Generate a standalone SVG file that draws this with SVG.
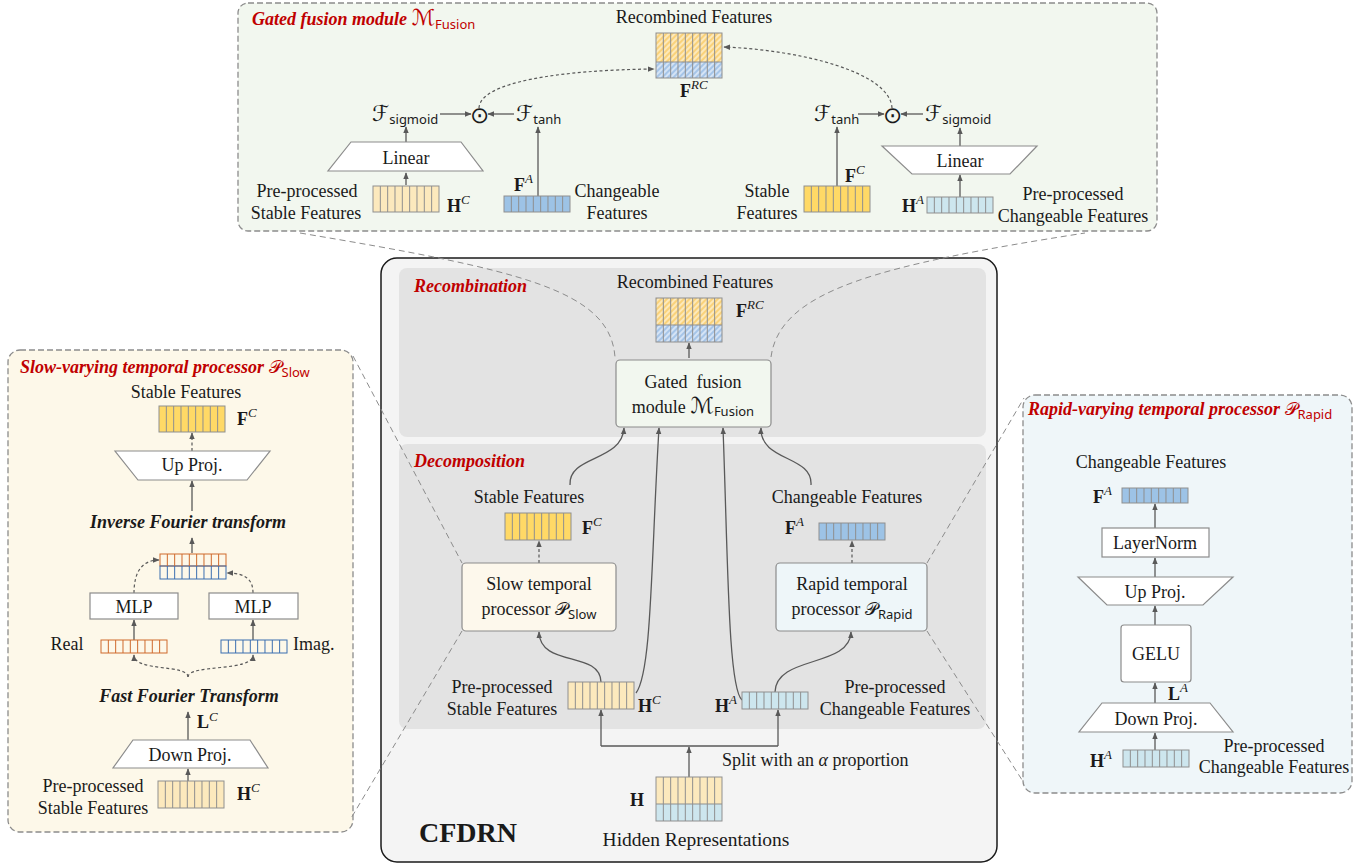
<svg xmlns="http://www.w3.org/2000/svg" width="1370" height="864" viewBox="0 0 1370 864">
<defs>
<style>
.t{font-family:"Liberation Serif","Times New Roman",serif;font-size:18px;fill:#1a1a1a}
.c{text-anchor:middle}
.ttl{font-weight:bold;font-style:italic;fill:#c00000}
.b{font-weight:bold}
.sup{font-style:italic;font-weight:normal;font-size:13px}
.sub{font-family:"Noto Sans","DejaVu Sans",sans-serif;font-size:13px;font-style:normal;font-weight:normal}
.scr{font-family:"DejaVu Sans","Noto Sans",sans-serif;font-style:normal;font-weight:normal}
.sf{font-size:22px}
.pan{stroke:#8c8c8c;stroke-width:1.3;stroke-dasharray:6 3}
.gp{fill:#e3e3e3}
.box{fill:#ffffff;stroke:#8c8c8c;stroke-width:1.2}
.cell{fill:none;stroke:#8f8f8f;stroke-width:1}
.ly{fill:#fce9bd}
.yy{fill:#ffd966}
.bb{fill:#9dc3e6}
.lb{fill:#cde6ee}
.ar{fill:none;stroke:#595959;stroke-width:1.3;marker-end:url(#ah)}
.da{fill:none;stroke:#595959;stroke-width:1.2;stroke-dasharray:3 2.5;marker-end:url(#ah)}
.zl{fill:none;stroke:#8c8c8c;stroke-width:1;stroke-dasharray:6 4}
.or{stroke:#cf6a2c}
.bl{stroke:#3b6fb0}
</style>
<marker id="ah" viewBox="0 0 10 10" refX="9" refY="5" markerWidth="7" markerHeight="7" markerUnits="userSpaceOnUse" orient="auto"><path d="M0,1 L10,5 L0,9 z" fill="#595959"/></marker>
<pattern id="hy" patternUnits="userSpaceOnUse" width="4" height="4" patternTransform="rotate(45)"><rect width="4" height="4" fill="#fad27a"/><line x1="1" y1="0" x2="1" y2="4" stroke="#fff4d6" stroke-width="1.4"/></pattern>
<pattern id="hb" patternUnits="userSpaceOnUse" width="4" height="4" patternTransform="rotate(45)"><rect width="4" height="4" fill="#a6c5e8"/><line x1="1" y1="0" x2="1" y2="4" stroke="#e8f1fb" stroke-width="1.4"/></pattern>
</defs>
<rect width="1370" height="864" fill="#ffffff"/>

<!-- Panels -->
<g id="panel-fusion">
<rect x="238" y="3" width="919" height="228" rx="10" fill="#f2f7ef" class="pan"/>
<text class="t ttl" x="252" y="25">Gated fusion module <tspan class="scr sf">ℳ</tspan><tspan class="sub" fill="#c00000" dy="4">Fusion</tspan></text>
</g>
<g id="panel-slow">
<rect x="8" y="350" width="345" height="482" rx="12" fill="#fdf8e9" class="pan"/>
<text class="t ttl" x="20" y="373">Slow-varying temporal processor <tspan class="scr">𝒫</tspan><tspan class="sub" fill="#c00000" dy="4">Slow</tspan></text>
</g>
<g id="panel-rapid">
<rect x="1023" y="395" width="329" height="398" rx="12" fill="#eff6f9" class="pan"/>
<text class="t ttl" x="1028" y="415">Rapid-varying temporal processor <tspan class="scr">𝒫</tspan><tspan class="sub" fill="#c00000" dy="4">Rapid</tspan></text>
</g>
<g id="cfdrn">
<rect x="381" y="258" width="616" height="604" rx="16" fill="#f4f4f4" stroke="#1a1a1a" stroke-width="1.5"/>
<rect x="399" y="268" width="587" height="169" rx="8" class="gp"/>
<rect x="399" y="444" width="587" height="285" rx="8" class="gp"/>
<text class="t ttl" x="414" y="292">Recombination</text>
<text class="t ttl" x="414" y="467">Decomposition</text>
<text class="t b" x="419" y="842" style="font-size:28px">CFDRN</text>
</g>

<!-- Connectors -->
<g id="connectors">
<!-- zoom guides -->
<path class="zl" d="M300 233 C520 270 610 290 615 357"/>
<path class="zl" d="M771 357 C780 290 880 265 1085 233"/>
<path class="zl" d="M353 356 L462 563"/>
<path class="zl" d="M462 631 L350 820"/>
<path class="zl" d="M927 563 L1024 398"/>
<path class="zl" d="M927 631 L1024 783"/>
<!-- fusion module -->
<path class="ar" d="M406 185 V173"/>
<path class="ar" d="M406 142 V127"/>
<path class="ar" d="M538 196 V127"/>
<path class="ar" d="M440 114 H471"/>
<path class="ar" d="M514 114 H488"/>
<path class="da" d="M479 108 C480 82 560 70 654 69"/>
<path class="ar" d="M837 186 V127"/>
<path class="ar" d="M858 114 H884"/>
<path class="ar" d="M923 114 H901"/>
<path class="ar" d="M960 197 V175"/>
<path class="ar" d="M960 146 V128"/>
<path class="da" d="M892 108 C890 72 800 50 724 47"/>
<!-- CFDRN -->
<path class="ar" d="M689 358 V343"/>
<path class="ar" d="M570 485 C568 455 622 462 624 428"/>
<path class="ar" d="M811 485 C813 455 760 462 761 428"/>
<path class="ar" d="M636 693 C652 672 651 560 659 428"/>
<path class="ar" d="M742 700 C728 688 728 560 723 428"/>
<path class="da" d="M539 563 V541"/>
<path class="da" d="M852 563 V541"/>
<path class="ar" d="M601 682 C600 650 540 668 539 632"/>
<path class="ar" d="M775 692 C776 655 850 668 851 632"/>
<path class="ar" d="M689 777 V747"/>
<path fill="none" stroke="#595959" stroke-width="1.3" d="M601 746 H778"/>
<path class="ar" d="M601 746 V710"/>
<path class="ar" d="M778 746 V710"/>
<!-- slow processor -->
<path class="da" d="M192 451 V433"/>
<path class="ar" d="M192 511 V481"/>
<path class="ar" d="M192 553 V538"/>
<path class="da" d="M134 593 C134 572 142 560 159 560"/>
<path class="da" d="M253 593 C253 580 246 573 227 573"/>
<path class="ar" d="M134 640 V620"/>
<path class="ar" d="M253 640 V620"/>
<path class="da" d="M188 677 C188 664 134 672 134 655"/>
<path class="da" d="M188 677 C188 664 253 672 253 655"/>
<path class="ar" d="M188 740 V712"/>
<path class="ar" d="M188 781 V769"/>
<!-- rapid processor -->
<path class="ar" d="M1155 528 V504"/>
<path class="ar" d="M1155 577 V558"/>
<path class="ar" d="M1155 625 V606"/>
<path class="ar" d="M1155 703 V683"/>
<path class="ar" d="M1155 750 V733"/>
</g>

<!-- Fusion module nodes -->
<g id="fusion-frc">
<text class="t c" x="694" y="23">Recombined Features</text>
<rect x="656" y="33" width="66" height="29" fill="url(#hy)"/>
<rect x="656" y="62" width="66" height="16" fill="url(#hb)"/>
<rect x="656" y="33" width="66" height="45" class="cell"/>
<path class="cell" d="M656 62H722M663.33 33v45m7.33 -45v45m7.33 -45v45m7.33 -45v45m7.33 -45v45m7.33 -45v45m7.33 -45v45m7.33 -45v45"/>
<text class="t b" x="680" y="97">F<tspan class="sup" dy="-8">RC</tspan></text>
</g>
<g id="fusion-left">
<text class="t" x="372" y="121"><tspan class="scr sf">ℱ</tspan><tspan class="sub" dy="3">sigmoid</tspan></text>
<text class="t c" x="479" y="123" style="font-size:23px">⊙</text>
<text class="t" x="516" y="121"><tspan class="scr sf">ℱ</tspan><tspan class="sub" dy="3">tanh</tspan></text>
<polygon points="351,142 461,142 483,171 328,171" class="box"/>
<text class="t c" x="406" y="164">Linear</text>
<rect x="373" y="186" width="66" height="26" class="ly"/>
<rect x="373" y="186" width="66" height="26" class="cell"/>
<path class="cell" d="M380.33 186v26m7.33 -26v26m7.33 -26v26m7.33 -26v26m7.33 -26v26m7.33 -26v26m7.33 -26v26m7.33 -26v26"/>
<text class="t b" x="447" y="212">H<tspan class="sup" dy="-8">C</tspan></text>
<text class="t c" x="307" y="197">Pre-processed</text>
<text class="t c" x="306" y="219">Stable Features</text>
<rect x="504" y="196" width="66" height="16" class="bb"/>
<rect x="504" y="196" width="66" height="16" class="cell"/>
<path class="cell" d="M511.33 196v16m7.33 -16v16m7.33 -16v16m7.33 -16v16m7.33 -16v16m7.33 -16v16m7.33 -16v16m7.33 -16v16"/>
<text class="t b" x="514" y="191">F<tspan class="sup" dy="-8">A</tspan></text>
<text class="t c" x="617" y="197">Changeable</text>
<text class="t c" x="617" y="219">Features</text>
</g>
<g id="fusion-right">
<text class="t" x="814" y="121"><tspan class="scr sf">ℱ</tspan><tspan class="sub" dy="3">tanh</tspan></text>
<text class="t c" x="892" y="123" style="font-size:23px">⊙</text>
<text class="t" x="925" y="121"><tspan class="scr sf">ℱ</tspan><tspan class="sub" dy="3">sigmoid</tspan></text>
<polygon points="882,146 1037,146 1010,174 912,174" class="box"/>
<text class="t c" x="960" y="167">Linear</text>
<rect x="804" y="186" width="66" height="26" class="yy"/>
<rect x="804" y="186" width="66" height="26" class="cell"/>
<path class="cell" d="M811.33 186v26m7.33 -26v26m7.33 -26v26m7.33 -26v26m7.33 -26v26m7.33 -26v26m7.33 -26v26m7.33 -26v26"/>
<text class="t b" x="845" y="182">F<tspan class="sup" dy="-8">C</tspan></text>
<text class="t c" x="767" y="197">Stable</text>
<text class="t c" x="767" y="219">Features</text>
<rect x="927" y="197" width="66" height="16" class="lb"/>
<rect x="927" y="197" width="66" height="16" class="cell"/>
<path class="cell" d="M934.33 197v16m7.33 -16v16m7.33 -16v16m7.33 -16v16m7.33 -16v16m7.33 -16v16m7.33 -16v16m7.33 -16v16"/>
<text class="t b" x="902" y="212">H<tspan class="sup" dy="-8">A</tspan></text>
<text class="t c" x="1073" y="200">Pre-processed</text>
<text class="t c" x="1073" y="222">Changeable Features</text>
</g>

<!-- CFDRN nodes -->
<g id="recombined">
<text class="t c" x="695" y="288">Recombined Features</text>
<rect x="656" y="298" width="66" height="27" fill="url(#hy)"/>
<rect x="656" y="325" width="66" height="17" fill="url(#hb)"/>
<rect x="656" y="298" width="66" height="44" class="cell"/>
<path class="cell" d="M656 325H722M663.33 298v44m7.33 -44v44m7.33 -44v44m7.33 -44v44m7.33 -44v44m7.33 -44v44m7.33 -44v44m7.33 -44v44"/>
<text class="t b" x="736" y="317">F<tspan class="sup" dy="-8">RC</tspan></text>
</g>
<g id="gated-fusion">
<rect x="616" y="360" width="155" height="67" rx="4" fill="#f2f7ef" stroke="#8c8c8c" stroke-width="1.2"/>
<text class="t c" x="693" y="388" style="white-space:pre">Gated  fusion</text>
<text class="t c" x="693" y="413">module <tspan class="scr sf">ℳ</tspan><tspan class="sub" dy="3">Fusion</tspan></text>
</g>
<g id="stable-features">
<text class="t c" x="529" y="503">Stable Features</text>
<rect x="505" y="513" width="66" height="27" class="yy"/>
<rect x="505" y="513" width="66" height="27" class="cell"/>
<path class="cell" d="M512.33 513v27m7.33 -27v27m7.33 -27v27m7.33 -27v27m7.33 -27v27m7.33 -27v27m7.33 -27v27m7.33 -27v27"/>
<text class="t b" x="582" y="534">F<tspan class="sup" dy="-8">C</tspan></text>
</g>
<g id="changeable-features">
<text class="t c" x="847" y="503">Changeable Features</text>
<rect x="819" y="523" width="66" height="17" class="bb"/>
<rect x="819" y="523" width="66" height="17" class="cell"/>
<path class="cell" d="M826.33 523v17m7.33 -17v17m7.33 -17v17m7.33 -17v17m7.33 -17v17m7.33 -17v17m7.33 -17v17m7.33 -17v17"/>
<text class="t b" x="785" y="534">F<tspan class="sup" dy="-8">A</tspan></text>
</g>
<g id="slow-processor">
<rect x="462" y="563" width="154" height="68" rx="4" fill="#fdf8ec" stroke="#8c8c8c" stroke-width="1.2"/>
<text class="t c" x="539" y="590">Slow temporal</text>
<text class="t c" x="539" y="615">processor <tspan class="scr">𝒫</tspan><tspan class="sub" dy="4">Slow</tspan></text>
</g>
<g id="rapid-processor">
<rect x="776" y="563" width="151" height="68" rx="4" fill="#eef6f9" stroke="#8c8c8c" stroke-width="1.2"/>
<text class="t c" x="852" y="590">Rapid temporal</text>
<text class="t c" x="852" y="615">processor <tspan class="scr">𝒫</tspan><tspan class="sub" dy="4">Rapid</tspan></text>
</g>
<g id="preproc-stable">
<rect x="568" y="682" width="66" height="27" class="ly"/>
<rect x="568" y="682" width="66" height="27" class="cell"/>
<path class="cell" d="M575.33 682v27m7.33 -27v27m7.33 -27v27m7.33 -27v27m7.33 -27v27m7.33 -27v27m7.33 -27v27m7.33 -27v27"/>
<text class="t b" x="638" y="712">H<tspan class="sup" dy="-8">C</tspan></text>
<text class="t c" x="502" y="693">Pre-processed</text>
<text class="t c" x="502" y="715">Stable Features</text>
</g>
<g id="preproc-changeable">
<rect x="742" y="692" width="66" height="17" class="lb"/>
<rect x="742" y="692" width="66" height="17" class="cell"/>
<path class="cell" d="M749.33 692v17m7.33 -17v17m7.33 -17v17m7.33 -17v17m7.33 -17v17m7.33 -17v17m7.33 -17v17m7.33 -17v17"/>
<text class="t b" x="715" y="712">H<tspan class="sup" dy="-8">A</tspan></text>
<text class="t c" x="895" y="693">Pre-processed</text>
<text class="t c" x="895" y="715">Changeable Features</text>
</g>
<g id="hidden">
<text class="t" x="722" y="766">Split with an <tspan font-style="italic">α</tspan> proportion</text>
<rect x="656" y="777" width="66" height="27" class="ly"/>
<rect x="656" y="804" width="66" height="17" class="lb"/>
<rect x="656" y="777" width="66" height="44" class="cell"/>
<path class="cell" d="M656 804H722M663.33 777v44m7.33 -44v44m7.33 -44v44m7.33 -44v44m7.33 -44v44m7.33 -44v44m7.33 -44v44m7.33 -44v44"/>
<text class="t b c" x="637" y="806">H</text>
<text class="t c" x="696" y="846" style="font-size:19.5px">Hidden Representations</text>
</g>

<!-- Slow processor detail -->
<g id="slow-fc">
<text class="t c" x="186" y="398">Stable Features</text>
<rect x="159" y="406" width="66" height="26" class="yy"/>
<rect x="159" y="406" width="66" height="26" class="cell"/>
<path class="cell" d="M166.33 406v26m7.33 -26v26m7.33 -26v26m7.33 -26v26m7.33 -26v26m7.33 -26v26m7.33 -26v26m7.33 -26v26"/>
<text class="t b" x="237" y="425">F<tspan class="sup" dy="-8">C</tspan></text>
</g>
<g id="slow-upproj">
<polygon points="115,451 270,451 247,480 138,480" class="box"/>
<text class="t c" x="192" y="471">Up Proj.</text>
</g>
<g id="slow-ifft">
<text class="t c b" x="188" y="528" font-style="italic">Inverse Fourier transform</text>
</g>
<g id="slow-complex">
<rect x="160" y="554" width="66" height="12" fill="#ffffff" class="cell or"/>
<rect x="160" y="566" width="66" height="13" fill="#f4f8fc" class="cell bl"/>
<path class="cell or" d="M167.33 554v12m7.33 -12v12m7.33 -12v12m7.33 -12v12m7.33 -12v12m7.33 -12v12m7.33 -12v12m7.33 -12v12"/>
<path class="cell bl" d="M167.33 566v13m7.33 -13v13m7.33 -13v13m7.33 -13v13m7.33 -13v13m7.33 -13v13m7.33 -13v13m7.33 -13v13"/>
</g>
<g id="slow-mlp1">
<rect x="90" y="593" width="88" height="26" class="box"/>
<text class="t c" x="134" y="613">MLP</text>
</g>
<g id="slow-mlp2">
<rect x="209" y="593" width="89" height="26" class="box"/>
<text class="t c" x="253" y="613">MLP</text>
</g>
<g id="slow-real">
<rect x="101" y="640" width="66" height="13" fill="#ffffff" class="cell or"/>
<path class="cell or" d="M108.33 640v13m7.33 -13v13m7.33 -13v13m7.33 -13v13m7.33 -13v13m7.33 -13v13m7.33 -13v13m7.33 -13v13"/>
<text class="t c" x="67" y="650">Real</text>
</g>
<g id="slow-imag">
<rect x="221" y="640" width="66" height="13" fill="#ffffff" class="cell bl"/>
<path class="cell bl" d="M228.33 640v13m7.33 -13v13m7.33 -13v13m7.33 -13v13m7.33 -13v13m7.33 -13v13m7.33 -13v13m7.33 -13v13"/>
<text class="t" x="293" y="650">Imag.</text>
</g>
<g id="slow-fft">
<text class="t c b" x="189" y="702" font-style="italic">Fast Fourier Transform</text>
<text class="t b" x="197" y="728">L<tspan class="sup" dy="-7">C</tspan></text>
</g>
<g id="slow-downproj">
<polygon points="133,740 250,740 268,768 113,768" class="box"/>
<text class="t c" x="190" y="761">Down Proj.</text>
</g>
<g id="slow-hc">
<rect x="158" y="781" width="66" height="27" class="ly"/>
<rect x="158" y="781" width="66" height="27" class="cell"/>
<path class="cell" d="M165.33 781v27m7.33 -27v27m7.33 -27v27m7.33 -27v27m7.33 -27v27m7.33 -27v27m7.33 -27v27m7.33 -27v27"/>
<text class="t b" x="237" y="800">H<tspan class="sup" dy="-8">C</tspan></text>
<text class="t c" x="93" y="792">Pre-processed</text>
<text class="t c" x="93" y="814">Stable Features</text>
</g>

<!-- Rapid processor detail -->
<g id="rapid-fa">
<text class="t c" x="1151" y="468">Changeable Features</text>
<rect x="1122" y="488" width="66" height="15" class="bb"/>
<rect x="1122" y="488" width="66" height="15" class="cell"/>
<path class="cell" d="M1129.33 488v15m7.33 -15v15m7.33 -15v15m7.33 -15v15m7.33 -15v15m7.33 -15v15m7.33 -15v15m7.33 -15v15"/>
<text class="t b" x="1093" y="503">F<tspan class="sup" dy="-8">A</tspan></text>
</g>
<g id="rapid-layernorm">
<rect x="1102" y="528" width="107" height="29" class="box"/>
<text class="t c" x="1155" y="549">LayerNorm</text>
</g>
<g id="rapid-upproj">
<polygon points="1078,577 1233,577 1203,605 1107,605" class="box"/>
<text class="t c" x="1155" y="598">Up Proj.</text>
</g>
<g id="rapid-gelu">
<rect x="1121" y="625" width="70" height="57" rx="3" class="box"/>
<text class="t c" x="1156" y="660">GELU</text>
</g>
<g id="rapid-downproj">
<text class="t b" x="1168" y="700">L<tspan class="sup" dy="-8">A</tspan></text>
<polygon points="1102,703 1210,703 1233,732 1079,732" class="box"/>
<text class="t c" x="1156" y="725">Down Proj.</text>
</g>
<g id="rapid-ha">
<rect x="1123" y="750" width="66" height="17" class="lb"/>
<rect x="1123" y="750" width="66" height="17" class="cell"/>
<path class="cell" d="M1130.33 750v17m7.33 -17v17m7.33 -17v17m7.33 -17v17m7.33 -17v17m7.33 -17v17m7.33 -17v17m7.33 -17v17"/>
<text class="t b" x="1090" y="767">H<tspan class="sup" dy="-8">A</tspan></text>
<text class="t c" x="1274" y="752">Pre-processed</text>
<text class="t c" x="1274" y="773">Changeable Features</text>
</g>
</svg>
